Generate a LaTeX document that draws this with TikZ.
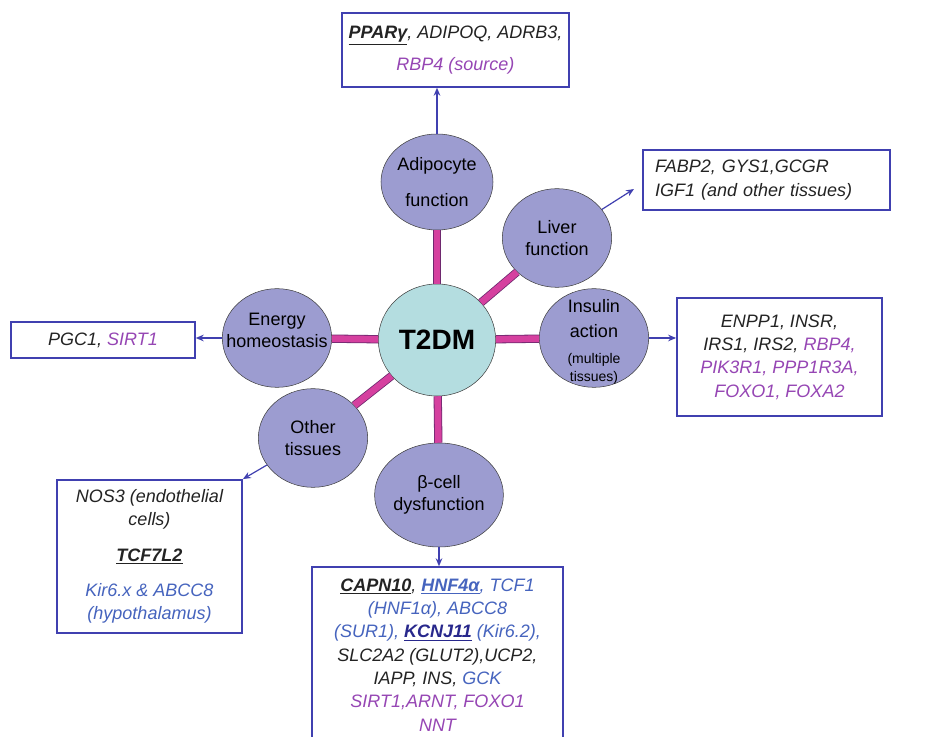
\documentclass[tikz,border=0pt]{standalone}
\usepackage{fontspec}
\setmainfont{Liberation Sans}
\usetikzlibrary{shapes.geometric,arrows.meta}

\definecolor{lavender}{RGB}{156,156,208}
\definecolor{paleteal}{RGB}{180,221,224}
\definecolor{spokepink}{RGB}{213,64,159}
\definecolor{spokeedge}{RGB}{110,40,110}
\definecolor{boxblue}{RGB}{64,64,176}
\definecolor{genepurple}{RGB}{150,70,180}
\definecolor{geneblue}{RGB}{70,100,190}
\definecolor{genedark}{RGB}{40,40,140}
\definecolor{geneblack}{RGB}{35,35,35}

\begin{document}
\begin{tikzpicture}[x=0.75pt, y=-0.75pt, font=\fontsize{13.5}{17}\selectfont]
    \tikzset{hub node/.style={ellipse,draw=black!75,fill=paleteal,minimum width=88pt,minimum height=84pt,inner sep=0pt,font=\fontsize{21}{24}\selectfont\bfseries},
             area node/.style={ellipse,draw=black!75,fill=lavender,minimum width=82pt,minimum height=74pt,inner sep=0pt,align=center},
             gene box/.style={draw=boxblue,line width=1.1pt,fill=white,align=center,text=geneblack,font=\fontsize{13.5}{17.5}\selectfont\itshape},
             spoke/.style={draw=spokeedge,line width=0.6pt,double=spokepink,double distance=5pt},
             feed/.style={draw=boxblue,line width=0.9pt,-{Stealth[length=6pt,width=5pt]}}}

    % Frame of the figure
    \path[use as bounding box, clip] (0,0) rectangle (933,737);

    % Central node
    \node[hub node] (t2dm) at (437,340) {T2DM};

    % Affected areas round the centre
    \node[area node, minimum width=84pt, minimum height=72pt] (adip) at (437,182) {Adipocyte\\[10pt]function};
    \node[area node] (liver) at (557,238) {Liver\\function};
    \node[area node] (insulin) at (594,338)
        {\raisebox{-7pt}[0pt][0pt]{\begin{tabular}{@{}c@{}}Insulin\\[2pt]action\\[2pt]{\fontsize{10.5}{14}\selectfont (multiple}\\[-3pt]{\fontsize{10.5}{14}\selectfont tissues)}\end{tabular}}};
    \node[area node] (energy) at (277,338)
        {\makebox[0pt]{\raisebox{1pt}[0pt][0pt]{\begin{tabular}{@{}c@{}}Energy\\homeostasis\end{tabular}}}};
    \node[area node] (other) at (313,438) {Other\\tissues};
    \node[area node, minimum height=78pt] (beta) at (439,495) {β-cell\\dysfunction};

    % Spokes from T2DM to each area
    \foreach \area in {adip,liver,insulin,energy,other,beta}
        \draw[spoke] (t2dm) -- (\area);

    % Gene boxes
    \node[gene box, minimum width=170pt, minimum height=55.5pt] (top_box) at (455.5,50)
        {\underline{\textbf{PPARγ}}, ADIPOQ, ADRB3,\\[6pt]\textcolor{genepurple}{RBP4 (source)}};
    \node[gene box, align=left, inner xsep=9pt, text width=167pt, minimum height=45pt] (liver_box) at (766.5,180)
        {FABP2, GYS1,GCGR\\IGF1 (and other tissues)};
    \node[gene box, minimum width=154pt, minimum height=88.5pt] (insulin_box) at (779.5,357)
        {ENPP1, INSR,\\IRS1, IRS2, \textcolor{genepurple}{RBP4,}\\\textcolor{genepurple}{PIK3R1, PPP1R3A,}\\\textcolor{genepurple}{FOXO1, FOXA2}};
    \node[gene box, minimum width=138pt, minimum height=27pt] (pgc_box) at (103,340)
        {PGC1, \textcolor{genepurple}{SIRT1}};
    \node[gene box, minimum width=139pt, minimum height=115pt] (other_box) at (149.5,556.5)
        {NOS3 (endothelial\\cells)\\[9pt]\underline{\textbf{TCF7L2}}\\[9pt]\textcolor{geneblue}{Kir6.x \& ABCC8}\\\textcolor{geneblue}{(hypothalamus)}};
    \node[gene box, minimum width=188pt, minimum height=132pt] (beta_box) at (437.5,655)
        {\underline{\textbf{CAPN10}}, \textcolor{geneblue}{\underline{\textbf{HNF4α}}, TCF1}\\
         \textcolor{geneblue}{(HNF1α), ABCC8}\\
         \textcolor{geneblue}{(SUR1), \textcolor{genedark}{\underline{\textbf{KCNJ11}}} (Kir6.2),}\\
         SLC2A2 (GLUT2),UCP2,\\
         IAPP, INS, \textcolor{geneblue}{GCK}\\
         \textcolor{genepurple}{SIRT1,ARNT, FOXO1}\\
         \textcolor{genepurple}{NNT}};

    % Arrows from the areas to their genes
    \coordinate (liver_tip) at (634,189);
    \draw[feed] (adip.north) -- (adip.north |- top_box.south);
    \draw[feed] (liver) -- (liver_tip);
    \draw[feed] (insulin.east) -- (insulin_box.west |- insulin.east);
    \draw[feed] (energy.west) -- (pgc_box.east |- energy.west);
    \draw[feed] (other) -- (other_box.north east);
    \draw[feed] (beta.south) -- (beta.south |- beta_box.north);

\end{tikzpicture}
\end{document}
